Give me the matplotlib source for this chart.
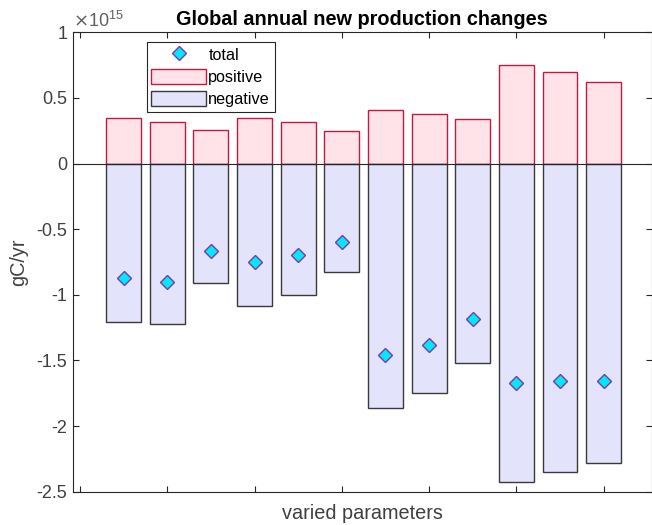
import numpy as np
import matplotlib
matplotlib.use("Agg")
import matplotlib.pyplot as plt
from matplotlib.ticker import FuncFormatter, MultipleLocator
from matplotlib.lines import Line2D
from matplotlib.patches import Patch

plt.rcParams['font.family'] = ['Liberation Sans', 'DejaVu Sans']

# values in gC/yr (x 1e15)
positive = np.array([0.344, 0.313, 0.252, 0.344, 0.317, 0.245,
                     0.410, 0.380, 0.337, 0.754, 0.694, 0.620]) * 1e15
negative = np.array([-1.210, -1.220, -0.910, -1.085, -1.004, -0.826,
                     -1.863, -1.749, -1.516, -2.423, -2.352, -2.279]) * 1e15
total = np.array([-0.873, -0.900, -0.667, -0.750, -0.697, -0.595,
                  -1.462, -1.380, -1.186, -1.675, -1.658, -1.658]) * 1e15
xpos = np.arange(1, 13)

gray = '#262626'
fig = plt.figure(figsize=(6.52, 5.25), dpi=100)
ax = fig.add_axes([0.1117, 0.0634, 0.8877, 0.8751])

ax.bar(xpos, positive, width=0.8, color='#FFE3E8', edgecolor='#C01A40', linewidth=1.0, zorder=2)
ax.bar(xpos, negative, width=0.8, color='#E3E3FC', edgecolor='#3A3A3A', linewidth=1.0, zorder=2)
ax.axhline(0, color=gray, linewidth=0.8, zorder=3)
ax.plot(xpos, total, linestyle='none', marker='D', markersize=7,
        markerfacecolor='#00E8FF', markeredgecolor='#7E3A9E', markeredgewidth=1.0, zorder=4)

ax.set_xlim(-0.165, 13.1)
ax.set_ylim(-2.5e15, 1e15)
ax.set_xticks(np.arange(0, 13, 2))
ax.set_xticklabels([])
ax.yaxis.set_major_locator(MultipleLocator(0.5e15))
ax.yaxis.set_major_formatter(FuncFormatter(lambda v, p: '%g' % (v / 1e15)))
ax.tick_params(direction='in', length=4, width=0.8, top=True, right=True,
               colors=gray, labelsize=13, labelcolor='#404040', pad=4)
for s in ax.spines.values():
    s.set_color(gray)
    s.set_linewidth(0.8)

ax.text(0.0, 1.003, r'$\times\mathregular{10^{15}}$', transform=ax.transAxes,
        fontsize=13, color='#606060', ha='left', va='bottom')
ax.set_title('Global annual new production changes', fontsize=14.3, fontweight='bold',
             color='black', pad=5)
ax.set_xlabel('varied parameters', fontsize=14.3, color='#404040', labelpad=5)
ax.set_ylabel('gC/yr', fontsize=14.3, color='#404040', labelpad=6)

handles = [Line2D([], [], linestyle='none', marker='D', markersize=7.5,
                  markerfacecolor='#00E8FF', markeredgecolor='#7E3A9E'),
           Patch(facecolor='#FFE3E8', edgecolor='#C01A40', linewidth=1.0),
           Patch(facecolor='#E3E3FC', edgecolor='#3A3A3A', linewidth=1.0)]
leg = ax.legend(handles, ['total', 'positive', 'negative'], loc='upper left',
                bbox_to_anchor=(0.128, 0.979), handlelength=3.35,
                handleheight=1.1, handletextpad=0.15, labelspacing=0.36,
                borderpad=0.28, borderaxespad=0, fancybox=False, framealpha=1,
                prop={'family': ['Liberation Sans', 'DejaVu Sans'], 'size': 11.7})
leg.get_frame().set_edgecolor(gray)
leg.get_frame().set_linewidth(0.8)

fig.savefig('out.png', dpi=100)
